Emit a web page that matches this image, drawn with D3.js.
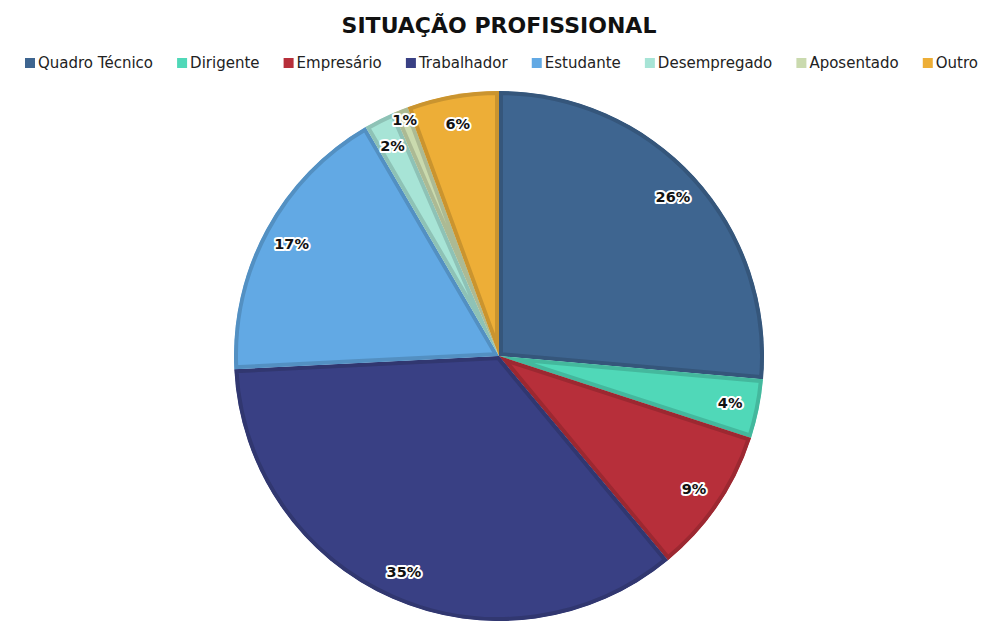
<!DOCTYPE html>
<html>
<head>
<meta charset="utf-8">
<script src="https://cdn.jsdelivr.net/npm/d3@7"></script>
<style>
  body { margin: 0; background: #fff; }
  svg { display: block; font-family: "DejaVu Sans", sans-serif; }
</style>
</head>
<body>
<svg id="chart" width="981" height="621"></svg>
<script>
const title = "SITUAÇÃO PROFISSIONAL";
const categories = ["Quadro Técnico", "Dirigente", "Empresário", "Trabalhador", "Estudante", "Desempregado", "Aposentado", "Outro"];
const values = [26.4, 3.6, 9.0, 35.2, 17.4, 1.9, 0.9, 5.6];
const colors = ["#3e6590", "#50d8b8", "#b72f3a", "#394084", "#62a9e4", "#a7e4d6", "#cadaae", "#edae37"];

const width = 981, height = 621;
const cx = 499, cy = 356, radius = 265;

const svg = d3.select("#chart");

// titulo
svg.append("text")
    .attr("x", 499)
    .attr("y", 33)
    .attr("text-anchor", "middle")
    .attr("font-size", 22)
    .attr("font-weight", "bold")
    .attr("fill", "#111")
    .text(title);

// legenda (espalhada entre x=25 e x=978)
const legend = svg.append("g").attr("transform", "translate(25, 68)");
const items = legend.selectAll("g")
    .data(categories)
    .enter().append("g");

items.append("rect")
    .attr("width", 10)
    .attr("height", 10)
    .attr("y", -10)
    .attr("fill", (d, i) => colors[i]);

items.append("text")
    .attr("x", 13)
    .attr("font-size", 15)
    .attr("fill", "#222")
    .text(d => d);

const widths = [];
items.each(function () {
    widths.push(13 + d3.select(this).select("text").node().getComputedTextLength());
});
const gap = (953 - d3.sum(widths)) / (categories.length - 1);
let xPos = 0;
items.each(function (d, i) {
    d3.select(this).attr("transform", `translate(${xPos}, 0)`);
    xPos += widths[i] + gap;
});

// pizza
const pie = d3.pie().sort(null).value(d => d);
const arcs = pie(values);
const arc = d3.arc().innerRadius(0).outerRadius(radius);

const g = svg.append("g").attr("transform", `translate(${cx}, ${cy})`);
const defs = svg.append("defs");

arcs.forEach((a, i) => {
    defs.append("clipPath")
        .attr("id", "clip" + i)
        .append("path")
        .attr("d", arc(a));
});

g.selectAll(".slice")
    .data(arcs)
    .enter().append("path")
    .attr("class", "slice")
    .attr("d", arc)
    .attr("fill", (d, i) => colors[i])
    .attr("stroke", (d, i) => d3.color(colors[i]).darker(0.45))
    .attr("stroke-width", 8)
    .attr("stroke-linejoin", "round")
    .attr("clip-path", (d, i) => `url(#clip${i})`);

// rotulos
const labelArc = d3.arc().innerRadius(radius * 0.89).outerRadius(radius * 0.89);
const smallArc = d3.arc().innerRadius(radius * 0.96).outerRadius(radius * 0.96);

g.selectAll(".label")
    .data(arcs)
    .enter().append("text")
    .attr("class", "label")
    .attr("transform", d => `translate(${(d.data < 1 ? smallArc : labelArc).centroid(d)})`)
    .attr("text-anchor", "middle")
    .attr("dy", "0.35em")
    .attr("font-size", 14.5)
    .attr("font-weight", "bold")
    .attr("fill", "#111")
    .attr("stroke", "#fff")
    .attr("stroke-width", 4)
    .attr("stroke-linejoin", "round")
    .attr("paint-order", "stroke")
    .text(d => Math.round(d.data) + "%");
</script>
</body>
</html>
